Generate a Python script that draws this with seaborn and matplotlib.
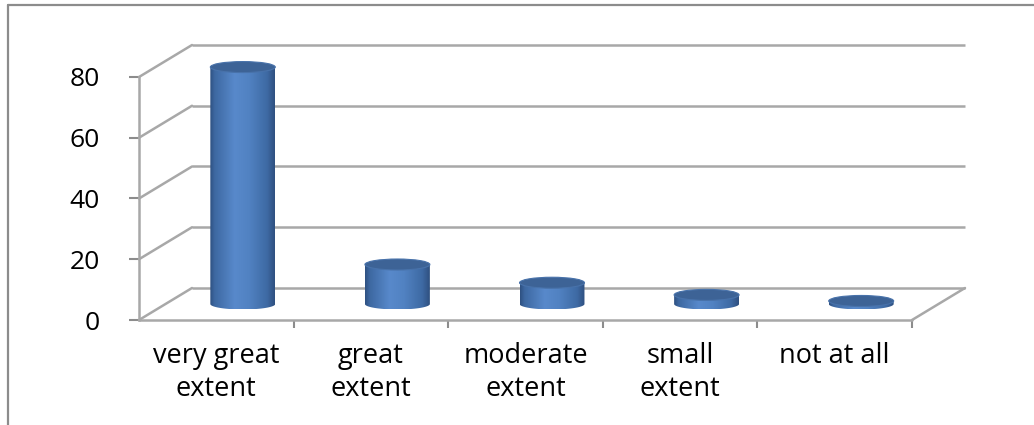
import numpy as np
import pandas as pd
import matplotlib
matplotlib.use("Agg")
import matplotlib.pyplot as plt
import seaborn as sns
from matplotlib.path import Path
from matplotlib.patches import PathPatch, Ellipse
from matplotlib.colors import LinearSegmentedColormap
from matplotlib.lines import Line2D

# ---- data ----
categories = ["very great\nextent", "great\nextent", "moderate\nextent", "small\nextent", "not at all"]
values = [78, 13, 7, 3, 1]
y_ticks = [0, 20, 40, 60, 80]

sns.set_theme(style="white")
plt.rcParams["font.family"] = ["Open Sans", "DejaVu Sans"]

W, H = 1034, 425
fig = plt.figure(figsize=(W / 100, H / 100), dpi=100)
fig.patch.set_facecolor("white")

# axes geometry in pixels
ax_left, ax_right = 139, 967
ax_bottom, ax_top = 320, 40
px_per_cat = 154.6
px_per_val = 3.0375
ax = fig.add_axes([ax_left / W, (H - ax_bottom) / H,
                   (ax_right - ax_left) / W, (ax_bottom - ax_top) / H])

df = pd.DataFrame({"category": categories, "value": values})
sns.barplot(data=df, x="category", y="value", ax=ax, width=0.42,
            color="#4f81bd", errorbar=None, zorder=3)

x_lo = -0.5
x_hi = x_lo + (ax_right - ax_left) / px_per_cat
ax.set_xlim(x_lo, x_hi)
ax.set_ylim(0, (ax_bottom - ax_top) / px_per_val)

# depth offset of the 3D box (in data units)
dx = 53 / px_per_cat
dy = 32 / px_per_val
n = len(categories)
x_end = x_lo + n

grid_c = "#a8a8a8"
lw = 1.8
# back wall gridlines and left wall diagonals
for v in y_ticks:
    ax.plot([x_lo + dx, x_end + dx], [v + dy, v + dy], color=grid_c, lw=lw,
            zorder=1, clip_on=False, solid_capstyle="butt")
    ax.plot([x_lo, x_lo + dx], [v, v + dy], color=grid_c, lw=lw,
            zorder=1, clip_on=False)
# floor front edge and right edge
ax.plot([x_lo, x_end], [0, 0], color=grid_c, lw=lw, zorder=1, clip_on=False)
ax.plot([x_end, x_end + dx], [0, dy], color=grid_c, lw=lw, zorder=1, clip_on=False)

# cylinder shading
body_cmap = LinearSegmentedColormap.from_list(
    "cyl", [(0.0, "#2e5080"), (0.07, "#3d68a1"), (0.38, "#5889cb"),
            (0.6, "#5182c2"), (0.88, "#3e6aa4"), (1.0, "#2f5080")])
grad = np.linspace(0, 1, 256).reshape(1, -1)
cap_h = 11 / px_per_val

for p in list(ax.patches):
    x0 = p.get_x() + dx / 2
    w = p.get_width()
    h = p.get_height()
    x1 = x0 + w
    xc = x0 + w / 2
    bottom = dy / 2
    top = bottom + h
    p.set_visible(False)
    t = np.linspace(np.pi, 2 * np.pi, 60)
    arc = np.column_stack([xc + (w / 2) * np.cos(t), bottom + (cap_h / 2) * np.sin(t)])
    verts = np.vstack([[x0, top], [x0, bottom], arc, [x1, bottom], [x1, top], [x0, top]])
    body = PathPatch(Path(verts), facecolor="none", edgecolor="none", zorder=3)
    ax.add_patch(body)
    im = ax.imshow(grad, cmap=body_cmap, aspect="auto", zorder=3,
                   extent=[x0, x1, bottom - cap_h / 2, top], interpolation="bilinear")
    im.set_clip_path(body)
    cap = Ellipse((xc, top), w, cap_h, facecolor="#3d6396",
                  edgecolor="#4872aa", lw=0.8, zorder=4)
    ax.add_patch(cap)

ax.set_xlim(x_lo, x_hi)
ax.set_ylim(0, (ax_bottom - ax_top) / px_per_val)

# axes, ticks and labels
for s in ["top", "right"]:
    ax.spines[s].set_visible(False)
ax.spines["bottom"].set_visible(False)
ax.spines["left"].set_bounds(0, 80)
ax.spines["left"].set_color(grid_c)
ax.spines["left"].set_linewidth(lw)
ax.spines["left"].set_zorder(1)

ax.set_yticks(y_ticks)
ax.set_yticklabels([str(v) for v in y_ticks])
ax.tick_params(axis="y", left=True, length=7, width=1.5, color="#8c8c8c",
               labelsize=19, pad=21, labelcolor="black")

ax.set_xticks(range(n))
ax.set_xticklabels(categories)
ax.set_xticks([i + 0.5 for i in range(n)], minor=True)
ax.tick_params(axis="x", which="major", bottom=False, length=0,
               labelsize=19.5, pad=16, labelcolor="black")
ax.tick_params(axis="x", which="minor", bottom=True, length=6, width=1.5,
               color="#8c8c8c")
for lab in ax.get_xticklabels():
    lab.set_linespacing(1.25)
ax.set_xlabel("")
ax.set_ylabel("")
ax.grid(False)
ax.set_facecolor("none")

# chart border (left and top edges)
fig.add_artist(Line2D([8 / W, 8 / W], [0, 1 - 5 / H], transform=fig.transFigure,
                      color="#8c8c8c", lw=1.6))
fig.add_artist(Line2D([8 / W, 1], [1 - 5 / H, 1 - 5 / H], transform=fig.transFigure,
                      color="#8c8c8c", lw=1.6))

fig.savefig("out.png", dpi=100, facecolor="white")
